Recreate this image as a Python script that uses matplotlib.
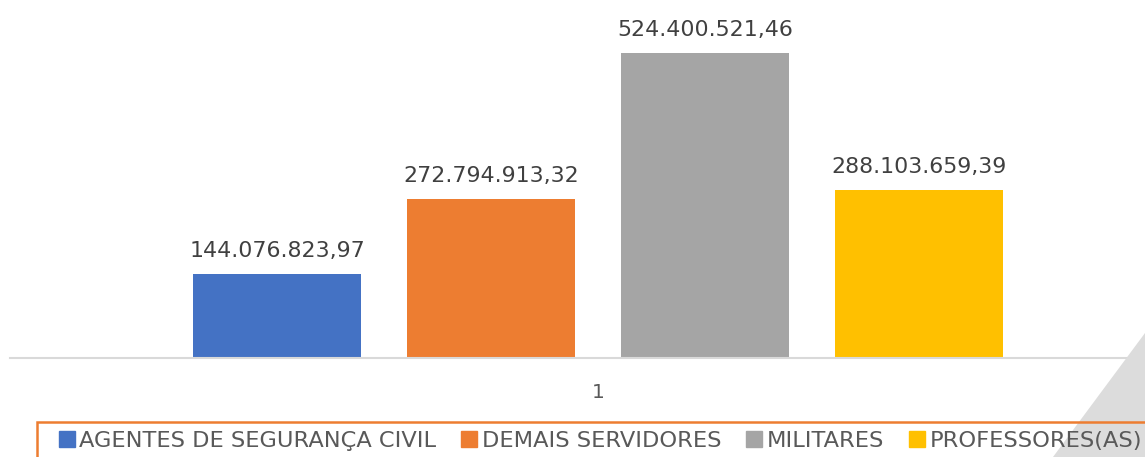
#!/usr/bin/env python3
"""Bar chart of totals by staff category (single group, data labels, bottom legend)."""

import matplotlib

matplotlib.use("Agg")
import matplotlib.pyplot as plt
from matplotlib.lines import Line2D
from matplotlib.patches import Polygon, Rectangle

CATEGORIES = [
    "AGENTES DE SEGURANÇA CIVIL",
    "DEMAIS SERVIDORES",
    "MILITARES",
    "PROFESSORES(AS)",
]
VALUES = [144076823.97, 272794913.32, 524400521.46, 288103659.39]
VALUE_LABELS = ["144.076.823,97", "272.794.913,32", "524.400.521,46", "288.103.659,39"]
GROUP_LABEL = "1"
COLORS = ["#4472C4", "#ED7D31", "#A5A5A5", "#FFC000"]

W, H = 1145, 457
plt.rcParams["font.family"] = ["DejaVu Sans"]


def px(x0, y0, x1, y1):
    """Figure-fraction rect from pixel box (top-left origin)."""
    return [x0 / W, 1 - y1 / H, (x1 - x0) / W, (y1 - y0) / H]


fig = plt.figure(figsize=(W / 100, H / 100), dpi=100)

# decorative triangle in the lower right corner
tri = Polygon(
    [(1145 / W, 1 - 333 / H), (1053 / W, 0), (1.0, 0)],
    closed=True,
    transform=fig.transFigure,
    facecolor="#DCDCDC",
    edgecolor="none",
    zorder=0,
)
fig.patches.append(tri)

ax = fig.add_axes(px(10, 0, 1186, 358))
ax.patch.set_alpha(0)

slot = 214.0
bar_w = 168 / slot
xs = [i for i in range(len(VALUES))]
ax.bar(xs, VALUES, width=bar_w, color=COLORS, zorder=2)

for x, v, lab in zip(xs, VALUES, VALUE_LABELS):
    ax.annotate(
        lab,
        (x, v),
        xytext=(0, 12.3),
        textcoords="offset points",
        ha="center",
        va="baseline",
        fontsize=15.9,
        color="#404040",
    )

center = (len(VALUES) - 1) / 2
half = (1186 - 10) / 2 / slot
ax.set_xlim(center - half, center + half)
ax.set_ylim(0, 358 / (305 / 524.4e6))
ax.set_xticks([center])
ax.set_xticklabels([GROUP_LABEL], fontsize=14.5, color="#595959")
ax.tick_params(axis="x", length=0, pad=18)
ax.set_yticks([])
for s in ("top", "right", "left"):
    ax.spines[s].set_visible(False)
ax.spines["bottom"].set_color("#D9D9D9")
ax.spines["bottom"].set_linewidth(1.5)

# legend frame (cut off by the figure edge)
frame = Rectangle(
    (37 / W, -0.1),
    1.2,
    (1 - 422 / H) + 0.1,
    transform=fig.transFigure,
    facecolor="none",
    edgecolor="#ED7D31",
    linewidth=1.8,
    zorder=3,
)
fig.patches.append(frame)

handles = [
    Line2D([0], [0], marker="s", linestyle="", markersize=11.5,
           markerfacecolor=c, markeredgecolor=c, label=n)
    for n, c in zip(CATEGORIES, COLORS)
]
fig.legend(
    handles=handles,
    loc="center left",
    bbox_to_anchor=(59 / W, 1 - 441 / H),
    ncol=4,
    frameon=False,
    fontsize=16.2,
    labelcolor="#595959",
    handlelength=0.7,
    handletextpad=0.2,
    columnspacing=1.12,
    borderpad=0,
    borderaxespad=0,
)

fig.savefig("out.png", dpi=100)
